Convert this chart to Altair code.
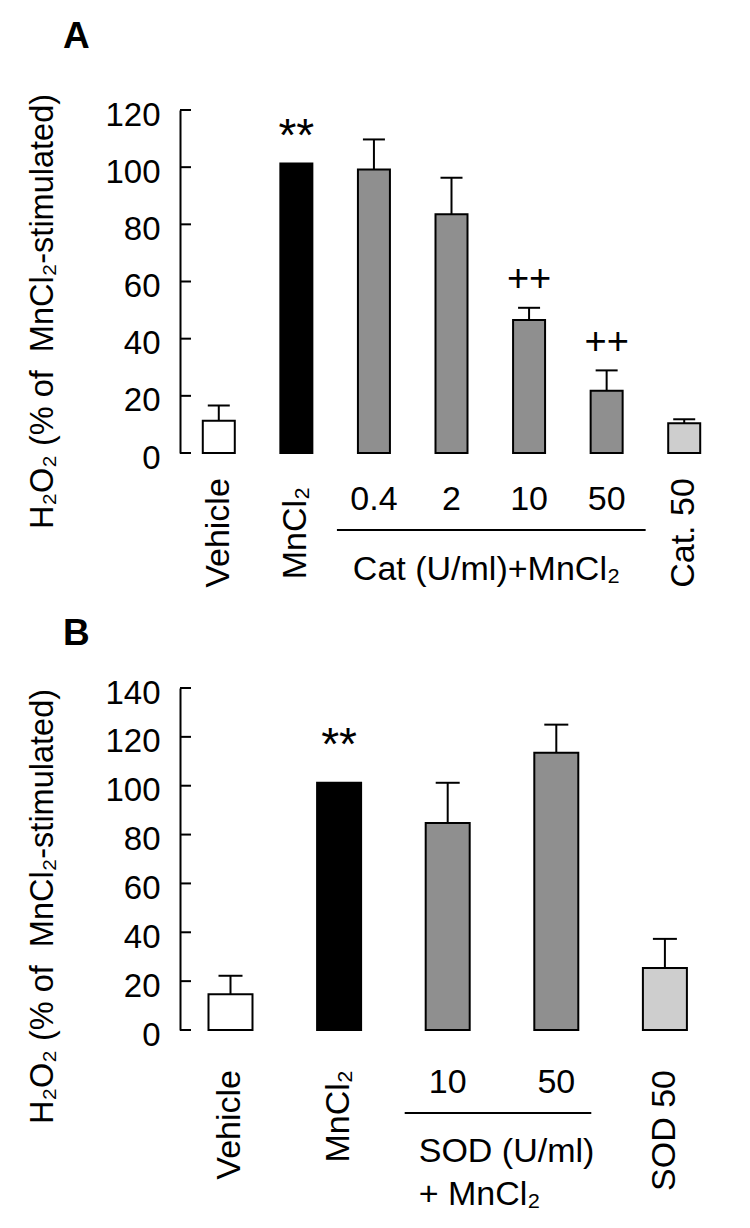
import altair as alt
import pandas as pd

FONT = "Liberation Sans"

# ---------------- Panel A ----------------
a_groups = ["Vehicle", "MnCl2", "Cat 0.4", "Cat 2", "Cat 10", "Cat 50", "Cat alone 50"]
a_labels = ["Vehicle", "MnCl₂", "0.4", "2", "10", "50", "Cat. 50"]
a_label_kind = ["rotated", "rotated", "dose", "dose", "dose", "dose", "rotated"]
a_kinds = ["vehicle", "MnCl2", "enzyme+MnCl2", "enzyme+MnCl2", "enzyme+MnCl2", "enzyme+MnCl2", "enzyme alone"]
a_means = [11.3, 101.3, 99.2, 83.5, 46.5, 21.8, 10.4]
a_sems = [5.3, 0.0, 10.5, 12.8, 4.3, 7.1, 1.4]
a_annot = ["", "**", "", "", "++", "++", ""]
a_annot_y = [0, 113.6, 0, 0, 60.5, 38.5, 0]
a_ticks = [0, 20, 40, 60, 80, 100, 120]
a_group_text = ["Cat (U/ml)+MnCl₂"]

# ---------------- Panel B ----------------
b_groups = ["Vehicle", "MnCl2", "SOD 10", "SOD 50", "SOD alone 50"]
b_labels = ["Vehicle", "MnCl₂", "10", "50", "SOD 50"]
b_label_kind = ["rotated", "rotated", "dose", "dose", "rotated"]
b_kinds = ["vehicle", "MnCl2", "enzyme+MnCl2", "enzyme+MnCl2", "enzyme alone"]
b_means = [14.6, 101.2, 84.7, 113.5, 25.4]
b_sems = [7.6, 0.0, 16.5, 11.5, 11.9]
b_annot = ["", "**", "", "", ""]
b_annot_y = [0, 120.0, 0, 0, 0]
b_ticks = [0, 20, 40, 60, 80, 100, 120, 140]
b_group_text = ["SOD (U/ml)", "+ MnCl₂"]

kind_domain = ["vehicle", "MnCl2", "enzyme+MnCl2", "enzyme alone"]
kind_colors = ["#ffffff", "#000000", "#8f8f8f", "#cecece"]

Y_TITLE = "H₂O₂ (% of\u00a0\u00a0MnCl₂-stimulated)"


def panel(letter, groups, labels, label_kind, kinds, means, sems, annot, annot_y,
          ticks, group_text, width, height, bar_size, cap_size, band_align,
          rot_align, rot_y, dose_y, line_y, line_off, gt_dx, gt_align, gt_y,
          gt_lh, title_y, title_dx, title_offset):
    df = pd.DataFrame({
        "group": groups, "label": labels, "lk": label_kind, "kind": kinds,
        "mean": means, "sem": sems, "annot": annot, "annot_y": annot_y,
    })
    df["upper"] = df["mean"] + df["sem"]

    xscale = alt.Scale(domain=groups, paddingInner=0.5, paddingOuter=0.25, align=band_align)
    X = alt.X("group:N", scale=xscale, sort=groups, axis=None)
    yscale = alt.Scale(domain=[0, ticks[-1]], nice=False, zero=True)

    yaxis = alt.Axis(
        values=ticks, ticks=False, grid=False, format="d",
        domainColor="black", domainWidth=2,
        labelFont=FONT, labelFontSize=33, labelColor="black", labelPadding=20,
        labelOffset=5, labelOverlap=False,
        title=Y_TITLE, titleFont=FONT, titleFontSize=32.5, titleFontWeight="normal",
        titleColor="black", titlePadding=45, titleY=title_y,
    )

    bars = alt.Chart(df).mark_bar(size=bar_size, stroke="black", strokeWidth=2).encode(
        x=alt.X("group:N", scale=xscale, sort=groups,
                axis=alt.Axis(labels=False, ticks=False, title=None,
                              domainColor="black", domainWidth=2.5)),
        y=alt.Y("mean:Q", scale=yscale, axis=yaxis),
        fill=alt.Fill("kind:N", scale=alt.Scale(domain=kind_domain, range=kind_colors), legend=None),
    )

    tick_df = pd.DataFrame({"t": ticks})
    inner_ticks = alt.Chart(tick_df).mark_rule(color="black", strokeWidth=2).encode(
        y=alt.Y("t:Q", scale=yscale), x=alt.value(0), x2=alt.value(11)
    )

    edf = df[df["sem"] > 0]
    err = alt.Chart(edf).mark_rule(color="black", strokeWidth=2).encode(
        x=X, y=alt.Y("mean:Q", scale=yscale), y2="upper:Q"
    )
    caps = alt.Chart(edf).mark_tick(color="black", thickness=2, size=cap_size,
                                    orient="horizontal", opacity=1).encode(
        x=X, y=alt.Y("upper:Q", scale=yscale)
    )

    stars = alt.Chart(df[df["annot"] == "**"]).mark_text(
        font=FONT, fontSize=46, baseline="middle", dy=9, color="black"
    ).encode(x=X, y=alt.Y("annot_y:Q", scale=yscale), text="annot:N")
    plus = alt.Chart(df[df["annot"] == "++"]).mark_text(
        font=FONT, fontSize=38, baseline="middle", color="black"
    ).encode(x=X, y=alt.Y("annot_y:Q", scale=yscale), text="annot:N")

    rot = alt.Chart(df[df["lk"] == "rotated"]).mark_text(
        font=FONT, fontSize=34, angle=270, align=rot_align, baseline="middle", color="black"
    ).encode(x=X, y=alt.value(height + rot_y), text="label:N")

    dose = alt.Chart(df[df["lk"] == "dose"]).mark_text(
        font=FONT, fontSize=34, align="center", baseline="middle", color="black"
    ).encode(x=X, y=alt.value(height + dose_y), text="label:N")

    dose_groups = [g for g, k in zip(groups, label_kind) if k == "dose"]
    line_df = pd.DataFrame({"start": [dose_groups[0]], "end": [dose_groups[-1]]})
    line = alt.Chart(line_df).mark_rule(
        color="black", strokeWidth=2, xOffset=line_off[0], x2Offset=line_off[1]
    ).encode(
        x=alt.X("start:N", scale=xscale, sort=groups, axis=None),
        x2="end:N",
        y=alt.value(height + line_y),
    )

    gt_layers = []
    for i, t in enumerate(group_text):
        gdf = pd.DataFrame({"group": [dose_groups[0] if gt_align == "left" else dose_groups[1]], "text": [t]})
        gt_layers.append(
            alt.Chart(gdf).mark_text(
                font=FONT, fontSize=34, align=gt_align, baseline="middle", dx=gt_dx, color="black"
            ).encode(x=X, y=alt.value(height + gt_y + i * gt_lh), text="text:N")
        )

    layers = [bars, inner_ticks, err, caps, stars, plus, rot, dose, line] + gt_layers
    return alt.layer(*layers).properties(
        width=width, height=height,
        title=alt.TitleParams(letter, anchor="start", frame="group", font=FONT, fontSize=37,
                              fontWeight="bold", color="black", dx=title_dx, offset=title_offset),
    )


pA = panel("A", a_groups, a_labels, a_label_kind, a_kinds, a_means, a_sems, a_annot, a_annot_y,
           a_ticks, a_group_text, width=543, height=343, bar_size=32, cap_size=22, band_align=0.5,
           rot_align="center", rot_y=80, dose_y=47, line_y=77, line_off=(-37, 39),
           gt_dx=35, gt_align="center", gt_y=117, gt_lh=43, title_y=201, title_dx=-117,
           title_offset=37)

pB = panel("B", b_groups, b_labels, b_label_kind, b_kinds, b_means, b_sems, b_annot, b_annot_y,
           b_ticks, b_group_text, width=543, height=342, bar_size=44, cap_size=24, band_align=0.43,
           rot_align="right", rot_y=40, dose_y=53, line_y=83, line_off=(-43, 35),
           gt_dx=-29, gt_align="left", gt_y=122, gt_lh=43, title_y=218, title_dx=-117,
           title_offset=24)

chart = alt.vconcat(pA, pB, spacing=235, bounds="flush").properties(
    padding={"left": 18, "top": 10, "right": 5, "bottom": 5}
).configure_view(strokeWidth=0)

chart.save("out.html", embed_options={"renderer": "svg", "actions": False})
